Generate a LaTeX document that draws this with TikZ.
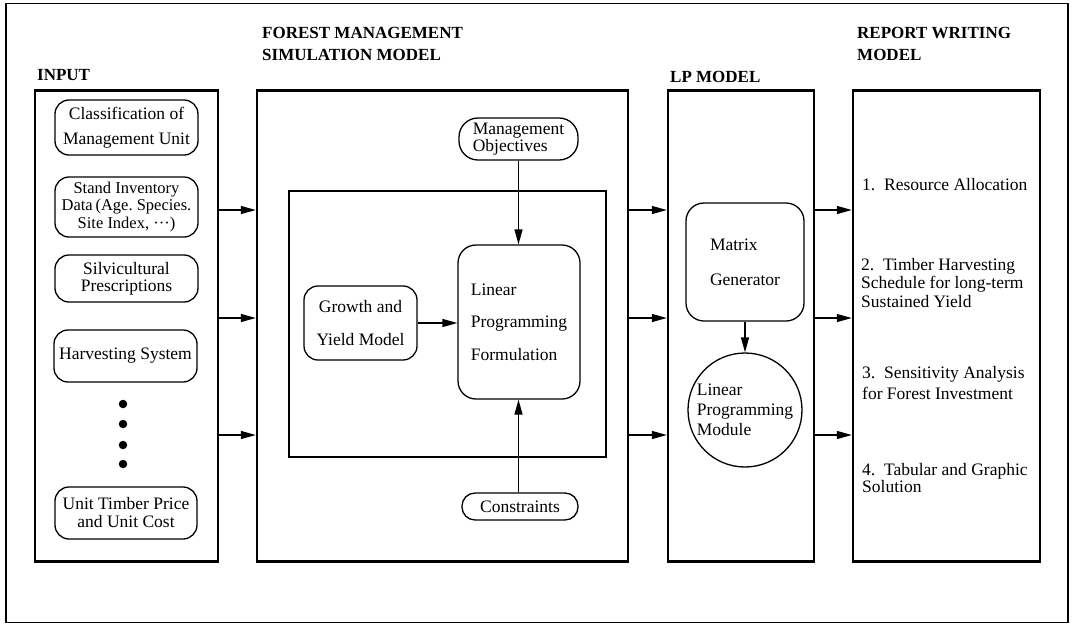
\documentclass[tikz,border=0pt]{standalone}
\usepackage{fontspec}
\setmainfont{Liberation Serif}
\usetikzlibrary{arrows.meta,shapes.geometric}
\begin{document}
\begin{tikzpicture}[x=1pt,y=-1pt,
  every node/.style={font=\fontsize{17.5}{18}\selectfont, inner sep=0pt},
  frame/.style={draw, line width=1.2pt, minimum width=1062pt, minimum height=619pt},
  col/.style={draw, line width=2.4pt, minimum height=471pt},
  ibox/.style={draw, line width=1.2pt},
  rbox/.style={draw, line width=1.3pt, rounded corners=14pt, align=center},
  head/.style={font=\fontsize{17}{22}\selectfont\bfseries, anchor=base west, align=left},
  arr/.style={line width=1.3pt, -{Triangle[length=15pt,width=8pt]}},
  lbl/.style={anchor=west, align=left},
  dot/.style={circle, fill, minimum size=8.5pt}
]
\useasboundingbox (0,0) rectangle (1073,625);

% outer frame
\node[frame] (outer) at (537,313) {};

% headings
\node[head] (hin) at (37,80) {INPUT};
\node[head] (hfms) at (262,60) {FOREST MANAGEMENT\\SIMULATION MODEL};
\node[head] (hlp) at (670,82) {LP MODEL};
\node[head] (hrep) at (857,60) {REPORT WRITING\\MODEL};

% column boxes
\node[col, minimum width=183pt] (inbox) at (126.5,326) {};
\node[col, minimum width=371pt] (fms) at (442.5,326) {};
\node[col, minimum width=146pt] (lpbox) at (741,326) {};
\node[col, minimum width=187pt] (rep) at (946.5,326) {};

% input items
\node[rbox, minimum width=143pt, minimum height=55pt, font=\fontsize{17.5}{25}\selectfont] (cls) at (126.5,127.5) {Classification of\\Management Unit};
\node[rbox, minimum width=143pt, minimum height=60pt, font=\fontsize{16.5}{17.5}\selectfont] (stand) at (126.5,207) {Stand Inventory\\Data\,(Age.\ Species.\\Site Index, ···)};
\node[rbox, minimum width=143pt, minimum height=47pt, font=\fontsize{17.5}{17}\selectfont] (silv) at (126.5,278.5) {Silvicultural\\Prescriptions};
\node[rbox, minimum width=143pt, minimum height=52pt] (harv) at (125.5,356) {Harvesting System};
\node[dot] (d1) at (123,404) {};
\node[dot] (d2) at (123,424) {};
\node[dot] (d3) at (123,445) {};
\node[dot] (d4) at (123,464) {};
\node[rbox, minimum width=142pt, minimum height=52pt, font=\fontsize{17.5}{18}\selectfont] (unit) at (126,513) {Unit Timber Price\\and Unit Cost};

% simulation model
\node[ibox, minimum width=317pt, minimum height=266pt] (inner) at (447.5,324) {};
\node[rbox, rounded corners=19pt, align=left, minimum width=119pt, minimum height=42pt, font=\fontsize{17.5}{17}\selectfont] (mgmt) at (518.5,139) {Management\\Objectives};
\node[rbox, rounded corners=18pt, align=left, minimum width=122pt, minimum height=154pt, font=\fontsize{17.5}{32.5}\selectfont] (lpf) at (519,322) {Linear\\Programming\\Formulation};
\node[rbox, minimum width=113pt, minimum height=74pt, font=\fontsize{17.5}{33}\selectfont] (gro) at (360.5,323) {Growth and\\Yield Model};
\node[rbox, rounded corners=13pt, minimum width=116pt, minimum height=27pt] (cons) at (520,506.5) {Constraints};

% LP model
\node[rbox, rounded corners=18pt, align=left, minimum width=118pt, minimum height=118pt, font=\fontsize{17.5}{35}\selectfont] (mat) at (745,262) {Matrix\\Generator};
\node[draw, line width=1.3pt, circle, minimum size=114pt, align=left, font=\fontsize{17.5}{20}\selectfont] (lpm) at (745,410) {Linear\\Programming\\Module};

% report items
\node[lbl] (r1) at (862,185) {1.\ \ Resource Allocation};
\node[lbl, font=\fontsize{17.5}{18.5}\selectfont] (r2) at (861,283) {2.\ \ Timber Harvesting\\Schedule for long-term\\Sustained Yield};
\node[lbl, font=\fontsize{17.5}{21}\selectfont] (r3) at (862,383.5) {3.\ \ Sensitivity Analysis\\for Forest Investment};
\node[lbl, font=\fontsize{17.5}{17}\selectfont] (r4) at (862,478.5) {4.\ \ Tabular and Graphic\\Solution};

% row coordinates
\coordinate (ya) at (0,210);
\coordinate (yb) at (0,318);
\coordinate (yc) at (0,435);

% arrows between columns
\foreach \r in {ya,yb,yc}{
  \draw[arr] (inbox.east |- \r) -- (fms.west |- \r);
  \draw[arr] (fms.east |- \r) -- (lpbox.west |- \r);
  \draw[arr] (lpbox.east |- \r) -- (rep.west |- \r);
}

% inner arrows
\draw[arr] (mgmt.south) -- (mgmt.south |- lpf.north);
\draw[arr] (cons.north -| mgmt.south) -- (mgmt.south |- lpf.south);
\draw[arr] (gro.east) -- (gro.east -| lpf.west);
\draw[arr] (mat.south) -- (lpm.north);
\end{tikzpicture}
\end{document}
